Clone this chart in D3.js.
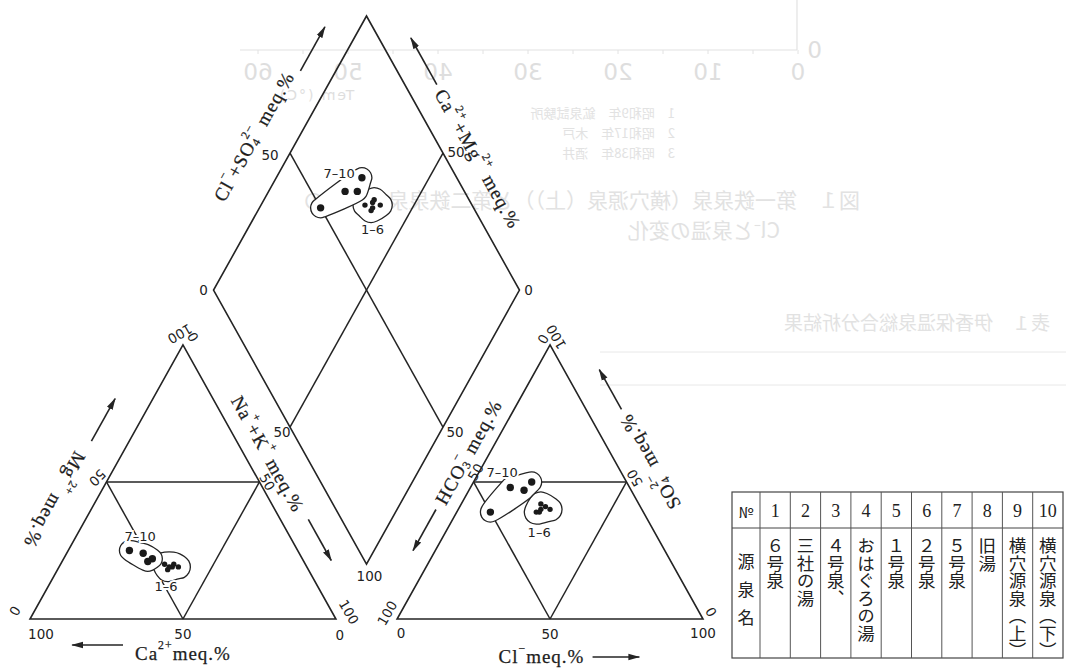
<!DOCTYPE html>
<html>
<head>
<meta charset="UTF-8">
<title>Piper diagram - Ikaho springs</title>
<script src="https://cdnjs.cloudflare.com/ajax/libs/d3/7.8.5/d3.min.js"></script>
<style>
body { margin: 0; background: #fff; }
svg { display: block; }
.ax { font-family: "Liberation Serif", serif; fill: #1d1d1d; stroke: #1d1d1d; stroke-width: 0.25px; }
.tk { font-family: "DejaVu Sans", sans-serif; fill: #222; font-size: 13.5px; }
.gl { font-family: "DejaVu Sans", sans-serif; fill: #222; font-size: 13px; }
.ghost { font-family: "DejaVu Sans", sans-serif; fill: #dedede; }
.gjp { font-family: "Noto Sans CJK JP", sans-serif; fill: #e2e2e2; }
</style>
</head>
<body>
<svg id="chart" width="1066" height="668"></svg>
<script>

/* DATA: meq.% of each sample (No. 1-10) */
var sampleNo = [1, 2, 3, 4, 5, 6, 7, 8, 9, 10];
var caPct   = [44, 46, 43, 45, 42, 46, 55, 51, 49, 51];
var mgPct   = [19, 18, 20, 19, 19, 20, 25, 24, 22, 21];
var naKPct  = [37, 36, 37, 36, 39, 34, 20, 25, 29, 28];
var hco3Pct = [33, 31, 34, 32, 30, 35, 50, 39, 35, 31];
var so4Pct  = [40, 41, 39, 42, 40, 39, 39, 48, 47, 50];
var clPct   = [27, 28, 27, 26, 30, 26, 11, 13, 18, 19];

var groupNames = ["1–6", "7–10"];
var groupMembers = [[1, 2, 3, 4, 5, 6], [7, 8, 9, 10]];

// table
var springNames = ["６号泉", "三社の湯", "４号泉、", "おはぐろの湯", "１号泉",
                   "２号泉", "５号泉", "旧湯", "横穴源泉（上）", "横穴源泉（下）"];

// show-through from the other side of the page (mirrored, faint)
var tempTicks = [0, 10, 20, 30, 40, 50, 60];

/* LAYOUT */
var svg = d3.select("#chart");
var s3 = Math.sqrt(3) / 2;
var gap = 20;
var x = d3.scaleLinear().domain([0, 200 + gap]).range([30, 703]);
var y = d3.scaleLinear().domain([0, (200 + gap) * s3]).range([619, 16]);

function cat(ca, mg, nak) { return [x(nak + mg / 2), y(mg * s3)]; }
function ani(hco3, so4, cl) { return [x(100 + gap + cl + so4 / 2), y(so4 * s3)]; }
function dia(nak, clso4) {
  return [x(50 + gap / 2 + (nak + clso4) / 2), y(gap * s3 + 100 * s3 + s3 * (clso4 - nak))];
}

var ink = "#242424";

/* ghost of the reverse page */
var ghost = svg.append("g");
var tx = d3.scaleLinear().domain([0, 60]).range([798, 258]);
ghost.append("line").attr("x1", 240).attr("x2", 797).attr("y1", 50).attr("y2", 50)
  .attr("stroke", "#e2e2e2").attr("stroke-width", 1.2);
ghost.append("line").attr("x1", 797).attr("x2", 797).attr("y1", 0).attr("y2", 50)
  .attr("stroke", "#e2e2e2").attr("stroke-width", 1.2);
ghost.selectAll(".gt").data(d3.range(0, 61, 5)).enter().append("line")
  .attr("x1", d => tx(d)).attr("x2", d => tx(d)).attr("y1", 50).attr("y2", 54)
  .attr("stroke", "#e2e2e2");
ghost.selectAll(".gn").data(tempTicks).enter().append("text")
  .attr("class", "ghost").attr("font-size", 23).attr("text-anchor", "middle")
  .attr("transform", d => "translate(" + tx(d) + ",80) scale(-1,1)")
  .text(d => d);
ghost.append("text").attr("class", "ghost").attr("font-size", 14).attr("letter-spacing", 2)
  .attr("text-anchor", "middle").attr("transform", "translate(316,100) scale(-1,1)")
  .text("Tem (°C)");
ghost.append("text").attr("class", "ghost").attr("font-size", 23)
  .attr("transform", "translate(822,58) scale(-1,1)").text("0");
var legendGhost = ["1　昭和9年　鉱泉試験所", "2　昭和17年　木戸", "3　昭和38年　酒井"];
ghost.selectAll(".gl2").data(legendGhost).enter().append("text")
  .attr("class", "gjp").attr("font-size", 13)
  .attr("transform", (d, i) => "translate(675," + (118 + i * 20) + ") scale(-1,1)")
  .text(d => d);
var captionGhost = ["図１　第一鉄泉泉（横穴源泉（上））と第二鉄泉泉（下）の", "Cl⁻と泉温の変化"];
ghost.selectAll(".gc").data(captionGhost).enter().append("text")
  .attr("class", "gjp").attr("font-size", 21)
  .attr("transform", (d, i) => "translate(" + (i ? 780 : 860) + "," + (208 + i * 30) + ") scale(-1,1)")
  .text(d => d);
ghost.append("text").attr("class", "gjp").attr("font-size", 19)
  .attr("transform", "translate(1050,330) scale(-1,1)").text("表１　伊香保温泉総合分析結果");
[352, 385].forEach(function(v) {
  ghost.append("line").attr("x1", 600).attr("x2", 1066).attr("y1", v).attr("y2", v)
    .attr("stroke", "#e8e8e8").attr("stroke-width", 1);
});

/* frames */
var frames = [
  [cat(100, 0, 0), cat(0, 0, 100), cat(0, 100, 0)],
  [ani(100, 0, 0), ani(0, 0, 100), ani(0, 100, 0)],
  [dia(0, 0), dia(100, 0), dia(100, 100), dia(0, 100)]
];
var inner = [
  [cat(50, 50, 0), cat(0, 50, 50)], [cat(0, 50, 50), cat(50, 0, 50)], [cat(50, 50, 0), cat(50, 0, 50)],
  [ani(50, 50, 0), ani(0, 50, 50)], [ani(0, 50, 50), ani(50, 0, 50)], [ani(50, 50, 0), ani(50, 0, 50)],
  [dia(0, 50), dia(100, 50)], [dia(50, 0), dia(50, 100)]
];
var plot = svg.append("g");
plot.selectAll(".frame").data(frames).enter().append("path")
  .attr("d", d => "M" + d.join("L") + "Z")
  .attr("fill", "none").attr("stroke", ink).attr("stroke-width", 1.6)
  .attr("stroke-linejoin", "miter");
plot.selectAll(".inner").data(inner).enter().append("path")
  .attr("d", d => "M" + d.join("L"))
  .attr("fill", "none").attr("stroke", ink).attr("stroke-width", 1.5);

/* arrow head */
svg.append("defs").append("marker").attr("id", "ah")
  .attr("viewBox", "0 -4 12 8").attr("refX", 11).attr("refY", 0)
  .attr("markerWidth", 12).attr("markerHeight", 8)
  .attr("markerUnits", "userSpaceOnUse").attr("orient", "auto")
  .append("path").attr("d", "M0,-3.2L12,0L0,3.2Z").attr("fill", ink);

function along(e, t, off) {
  var dx = e.p1[0] - e.p0[0], dy = e.p1[1] - e.p0[1];
  var len = Math.hypot(dx, dy), ux = dx / len, uy = dy / len;
  var nx = -uy, ny = ux;
  var mx = e.p0[0] + t * dx, my = e.p0[1] + t * dy;
  if ((mx - e.c[0]) * nx + (my - e.c[1]) * ny < 0) { nx = -nx; ny = -ny; }
  return [mx + off * nx, my + off * ny];
}
function edgeAngle(e) {
  return Math.atan2(e.p1[1] - e.p0[1], e.p1[0] - e.p0[0]) * 180 / Math.PI;
}
function rich(sel, parts, size) {
  var shift = 0;
  parts.forEach(function(p) {
    var kind = p[1] || "n";
    var target = kind === "sup" ? -0.42 * size : kind === "sub" ? 0.26 * size : 0;
    var t = sel.append("tspan").text(p[0]).attr("dy", target - shift);
    if (kind !== "n") t.attr("font-size", size * 0.62);
    if (p[2]) t.attr("dx", p[2]);
    shift = target;
  });
}

var cC = cat(33, 33, 34), cA = ani(33, 33, 34), cD = dia(50, 50);
var edges = [
  {p0: dia(0, 0), p1: dia(0, 100), c: cD, flip: 0, t: 0.49, off: 40, a: [0.745, 0.905], ao: 31,
   parts: [["Cl"], ["−", "sup"], ["+SO"], ["4", "sub"], ["2−", "sup", -6], [" meq.%"]]},
  {p0: dia(100, 100), p1: dia(0, 100), c: cD, flip: 180, t: 0.43, off: 28, a: [0.70, 0.87], ao: 28,
   parts: [["Ca"], ["2+", "sup"], ["+Mg"], ["2+", "sup"], [" meq.%"]]},
  {p0: dia(0, 0), p1: dia(100, 0), c: cD, flip: 0, t: 0.54, off: 32, a: [0.785, 0.935], ao: 29,
   parts: [["Na"], ["+", "sup"], ["+K"], ["+", "sup"], [" meq.%"]]},
  {p0: dia(100, 100), p1: dia(100, 0), c: cD, flip: 180, t: 0.53, off: 34, a: [0.74, 0.89], ao: 34,
   parts: [["HCO"], ["3", "sub"], ["−", "sup", -5], [" meq.%"]]},
  {p0: cat(100, 0, 0), p1: cat(0, 100, 0), c: cC, flip: 180, t: 0.37, off: 36, a: [0.59, 0.745], ao: 33,
   parts: [["Mg"], ["2+", "sup"], [" meq.%"]]},
  {p0: cat(100, 0, 0), p1: cat(0, 0, 100), c: cC, flip: 0, t: 0.5, off: 34, a: [0.304, 0.138], ao: 26,
   parts: [["Ca"], ["2+", "sup"], ["meq.%"]]},
  {p0: ani(0, 0, 100), p1: ani(0, 100, 0), c: cA, flip: 0, t: 0.52, off: 30, a: [0.71, 0.855], ao: 31,
   parts: [["SO"], ["4", "sub"], ["2−", "sup", -6], [" meq.%"]]},
  {p0: ani(100, 0, 0), p1: ani(0, 0, 100), c: cA, flip: 0, t: 0.472, off: 37, a: [0.639, 0.792], ao: 38,
   parts: [["Cl"], ["−", "sup"], ["meq.%"]]}
];

edges.forEach(function(e) {
  var p = along(e, e.t, e.off);
  var rot = edgeAngle(e) + e.flip;
  var t = plot.append("text").attr("class", "ax").attr("font-size", 19)
    .attr("letter-spacing", 1).attr("text-anchor", "middle")
    .attr("dominant-baseline", "central")
    .attr("transform", "translate(" + p + ") rotate(" + rot + ")");
  rich(t, e.parts, 19);
  var a0 = along(e, e.a[0], e.ao), a1 = along(e, e.a[1], e.ao);
  plot.append("line").attr("x1", a0[0]).attr("y1", a0[1]).attr("x2", a1[0]).attr("y2", a1[1])
    .attr("stroke", ink).attr("stroke-width", 1.6).attr("marker-end", "url(#ah)");
});

/* tick labels */
var tickLabels = [
  [cat(100, 0, 0), "100", 11, 15, 0], [cat(50, 0, 50), "50", 0, 15, 0], [cat(0, 0, 100), "0", 4, 16, 0],
  [cat(100, 0, 0), "0", -15, -8, 120], [cat(50, 50, 0), "50", -9, -4, 135],
  [cat(0, 100, 0), "100", -3, -11, 150], [cat(0, 100, 0), "0", 10, -8, 60],
  [cat(0, 50, 50), "50", 8, 0, 60], [cat(0, 0, 100), "100", 13, -7, 60],
  [ani(100, 0, 0), "0", 4, 14, 0], [ani(100, 0, 0), "100", -10, -6, -60],
  [ani(50, 0, 50), "50", 0, 15, 0], [ani(0, 0, 100), "100", 0, 14, 0], [ani(0, 0, 100), "0", 8, -7, -120],
  [ani(50, 50, 0), "50", 2, -10, -60], [ani(0, 50, 50), "50", 8, -4, -120],
  [ani(0, 100, 0), "0", -7, -6, -60], [ani(0, 100, 0), "100", 6, -8, -120],
  [dia(0, 0), "0", -10, 0, 0], [dia(0, 50), "50", -20, 2, 0], [dia(100, 100), "0", 9, 0, 0],
  [dia(50, 100), "50", 13, -1, 0], [dia(50, 0), "50", -8, 5, 0], [dia(100, 0), "100", 3, 12, 0],
  [dia(100, 50), "50", 12, 5, 0]
];
plot.selectAll(".tk").data(tickLabels).enter().append("text")
  .attr("class", "tk").attr("text-anchor", "middle").attr("dominant-baseline", "central")
  .attr("transform", d => "translate(" + (d[0][0] + d[2]) + "," + (d[0][1] + d[3]) + ") rotate(" + d[4] + ")")
  .text(d => d[1]);

/* samples in the three fields */
var idx = sampleNo.map((n, i) => i);
var panels = [
  {key: "cat", pos: i => cat(caPct[i], mgPct[i], naKPct[i]),
   lab: [[-5, 20], [-3, -19]]},
  {key: "ani", pos: i => ani(hco3Pct[i], so4Pct[i], clPct[i]),
   lab: [[-3, 24], [-12, -20]]},
  {key: "dia", pos: i => dia(naKPct[i], so4Pct[i] + clPct[i]),
   lab: [[0, 24], [-7, -19]]}
];
var loopLine = d3.line().curve(d3.curveCatmullRomClosed.alpha(0.5));
var marks = svg.append("g");
panels.forEach(function(pn) {
  groupMembers.forEach(function(mem, gi) {
    var pts = mem.map(n => pn.pos(n - 1));
    var pad = gi === 0 ? 12 : 10;
    var cloud = [];
    pts.forEach(function(p) {
      d3.range(12).forEach(function(k) {
        var a = k / 12 * 2 * Math.PI;
        cloud.push([p[0] + pad * Math.cos(a), p[1] + pad * Math.sin(a)]);
      });
    });
    var hull = d3.polygonHull(cloud);
    marks.append("path").attr("d", loopLine(hull))
      .attr("fill", "#fff").attr("stroke", ink).attr("stroke-width", 1.3);
    var cx = d3.mean(pts, p => p[0]), cy = d3.mean(pts, p => p[1]);
    marks.append("text").attr("class", "gl").attr("text-anchor", "middle")
      .attr("dominant-baseline", "central")
      .attr("x", cx + pn.lab[gi][0]).attr("y", cy + pn.lab[gi][1])
      .attr("stroke", "#fff").attr("stroke-width", 4).attr("paint-order", "stroke")
      .text(groupNames[gi]);
  });
  marks.selectAll(".pt-" + pn.key).data(idx).enter().append("circle")
    .attr("cx", i => pn.pos(i)[0]).attr("cy", i => pn.pos(i)[1])
    .attr("r", i => sampleNo[i] <= 6 ? 2.7 : 3.7)
    .attr("fill", "#1a1a1a");
});

/* table of spring names */
var colX = d3.scaleLinear().domain([0, 10]).range([760, 1063]);
var tLeft = 732, tTop = 492, tMid = 528, tBot = 658;
var tbl = svg.append("g");
tbl.append("rect").attr("x", tLeft).attr("y", tTop).attr("width", colX(10) - tLeft)
  .attr("height", tBot - tTop).attr("fill", "none").attr("stroke", "#444").attr("stroke-width", 1.2);
tbl.append("line").attr("x1", tLeft).attr("x2", colX(10)).attr("y1", tMid).attr("y2", tMid)
  .attr("stroke", "#444").attr("stroke-width", 1);
tbl.selectAll(".vl").data(d3.range(0, 10)).enter().append("line")
  .attr("x1", d => colX(d)).attr("x2", d => colX(d)).attr("y1", tTop).attr("y2", tBot)
  .attr("stroke", "#555").attr("stroke-width", 1);
tbl.append("text").attr("x", (tLeft + colX(0)) / 2).attr("y", 511)
  .attr("text-anchor", "middle").attr("dominant-baseline", "central")
  .attr("font-family", "Noto Sans CJK JP").attr("font-size", 15).attr("fill", "#222").text("№");
tbl.selectAll(".hn").data(sampleNo).enter().append("text")
  .attr("x", (d, i) => colX(i + 0.5)).attr("y", 511)
  .attr("text-anchor", "middle").attr("dominant-baseline", "central")
  .attr("font-family", "Liberation Serif").attr("font-size", 18).attr("fill", "#222")
  .text(d => d);
tbl.append("text").attr("x", (tLeft + colX(0)) / 2).attr("y", 553)
  .style("writing-mode", "vertical-rl").attr("letter-spacing", 11)
  .attr("font-family", "Noto Sans CJK JP").attr("font-size", 17).attr("fill", "#222")
  .text("源泉名");
tbl.selectAll(".nm").data(springNames).enter().append("text")
  .attr("x", (d, i) => colX(i + 0.5)).attr("y", 537)
  .style("writing-mode", "vertical-rl")
  .attr("font-family", "Noto Sans CJK JP").attr("font-size", 17.5).attr("fill", "#222")
  .text(d => d);

</script>
</body>
</html>
